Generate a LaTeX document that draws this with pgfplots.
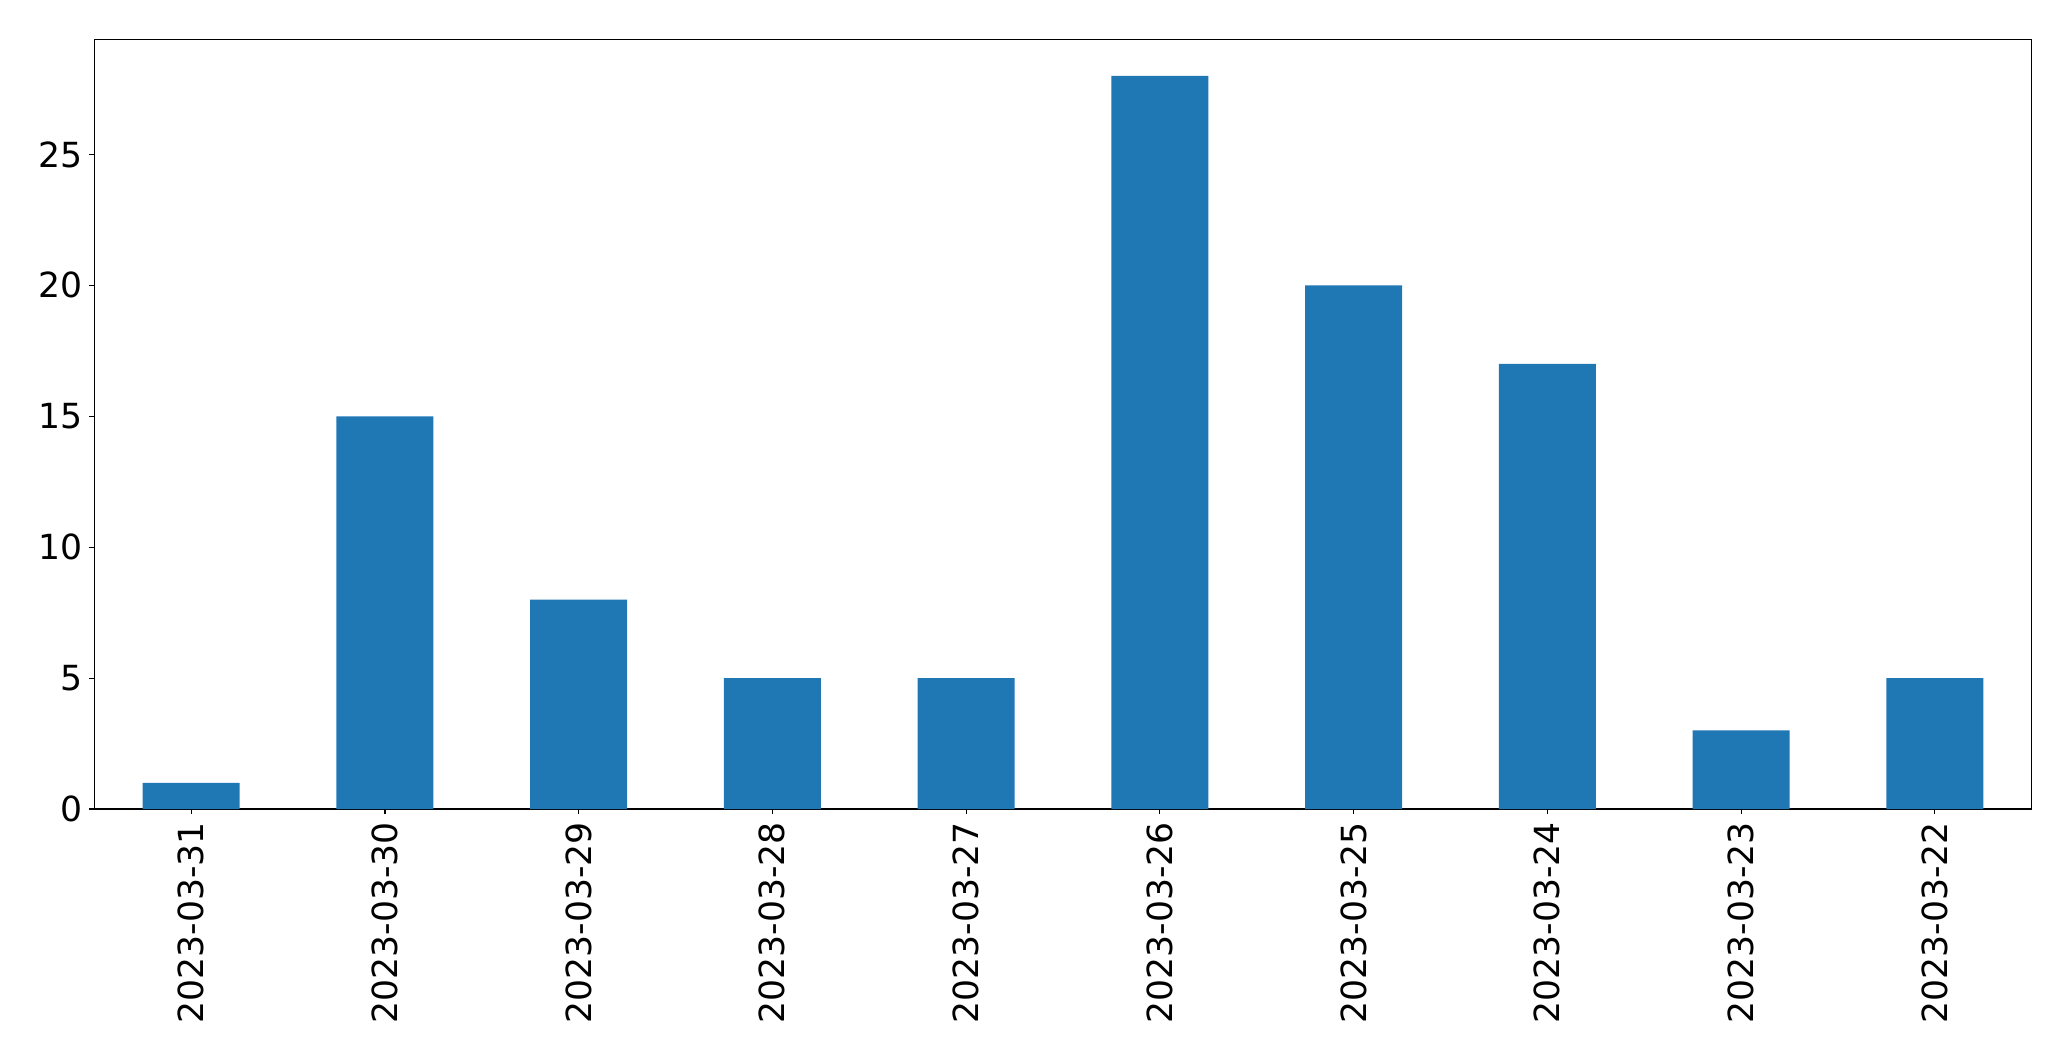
\documentclass[border=0pt]{standalone}
\usepackage{pgfplots}
\pgfplotsset{compat=1.18}
\usepackage{fontspec}
\setmainfont{DejaVu Sans}
\definecolor{mplblue}{HTML}{1F77B4}
\begin{document}
\begin{tikzpicture}
\path[use as bounding box] (-47.15pt,-126pt) rectangle (988.35pt,404.5pt);
\begin{axis}[
  at={(0,0)}, anchor=south west,
  scale only axis,
  width=968.7pt, height=384.85pt,
  xmin=-0.5, xmax=9.5, ymin=0, ymax=29.4,
  ytick={0,5,10,15,20,25},
  xtick={0,1,2,3,4,5,6,7,8,9},
  xticklabels={2023-03-31,2023-03-30,2023-03-29,2023-03-28,2023-03-27,2023-03-26,2023-03-25,2023-03-24,2023-03-23,2023-03-22},
  tick align=outside,
  major tick length=2.5pt,
  tick style={black, line width=0.6pt},
  axis line style={line width=0.6pt},
  tick pos=left,
  /pgf/number format/assume math mode=true,
  ticklabel style={font=\fontsize{17.3pt}{20pt}\selectfont},
  x tick label style={rotate=90, anchor=east, inner sep=0pt, xshift=-4pt},
  y tick label style={anchor=east, inner sep=0pt, xshift=-3pt},
]
\addplot[ybar, bar width=0.5, fill=mplblue, draw=none] coordinates {
(0,1) (1,15) (2,8) (3,5) (4,5) (5,28) (6,20) (7,17) (8,3) (9,5)
};
\end{axis}
\end{tikzpicture}
\end{document}
